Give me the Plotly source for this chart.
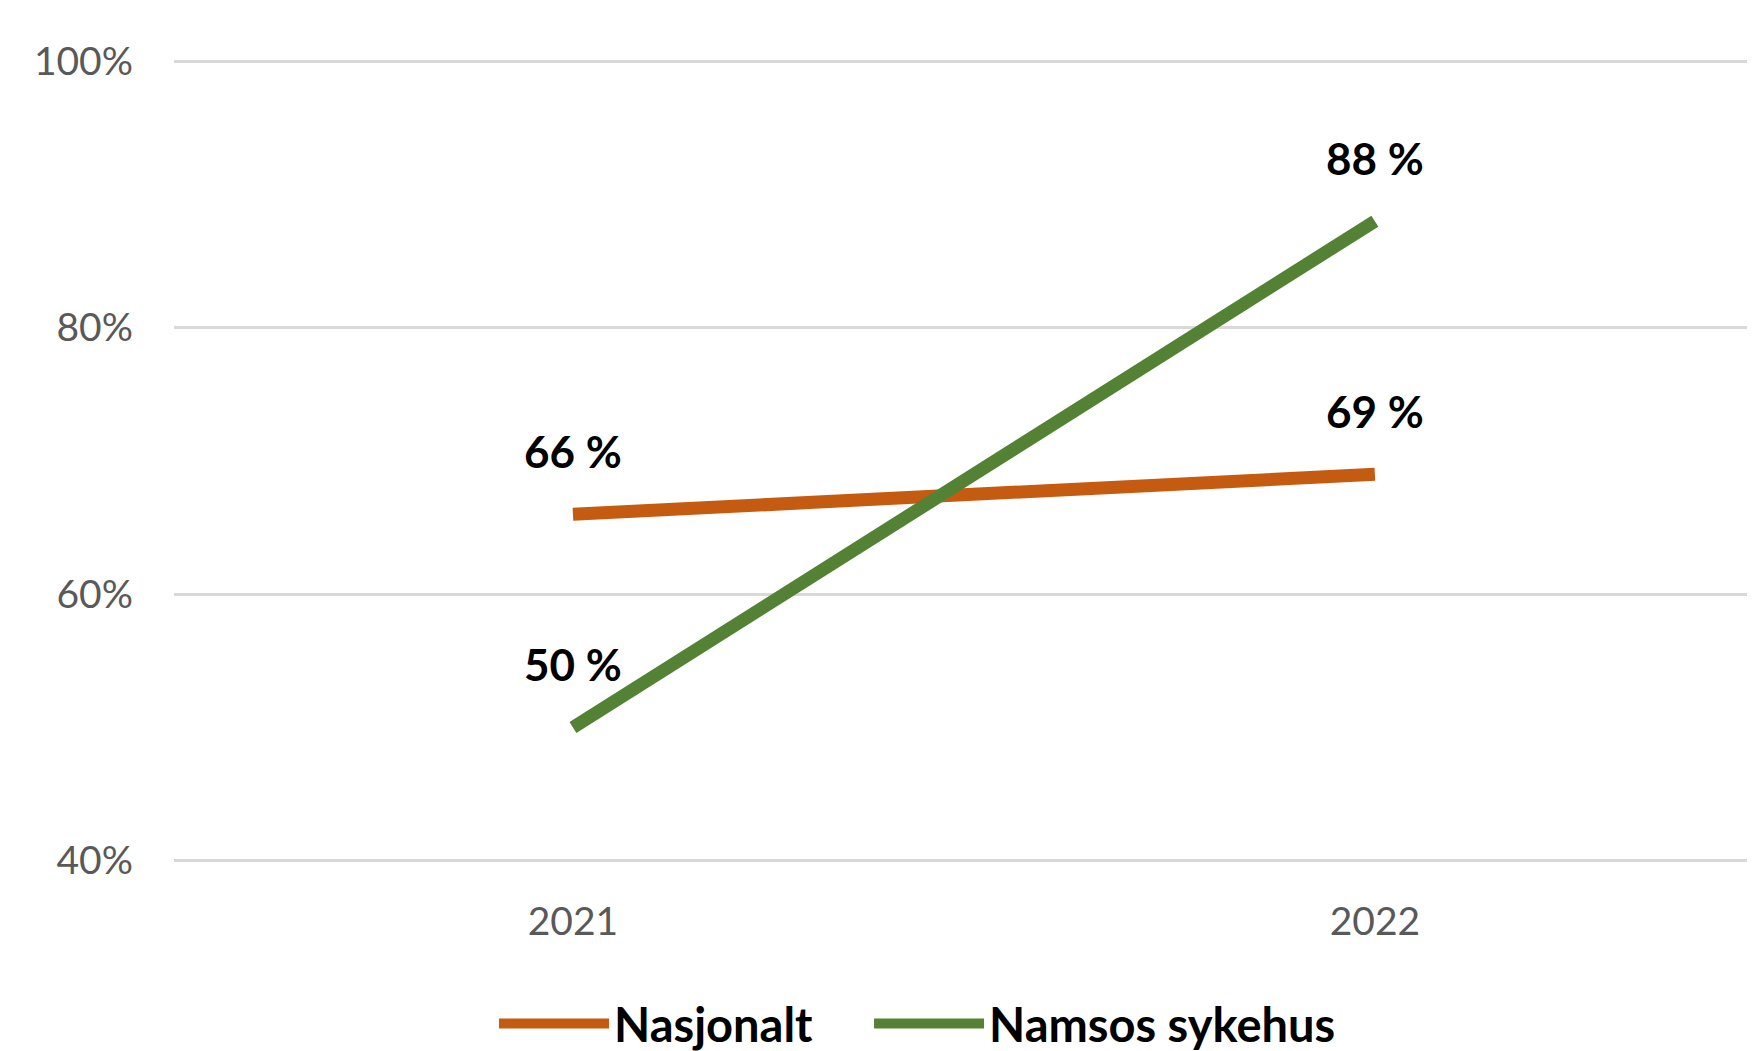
import plotly.graph_objects as go

years = ["2021", "2022"]
series_names = ["Nasjonalt", "Namsos sykehus"]
nasjonalt = [0.66, 0.69]
namsos = [0.50, 0.88]
label_nasjonalt = ["66 %", "69 %"]
label_namsos = ["50 %", "88 %"]
colors = ["#C55A11", "#548235"]
y_ticks = [0.4, 0.6, 0.8, 1.0]

legend_ids = ["legend", "legend2"]
legend_x = [0.2014, 0.4374]

fig = go.Figure()
for name, vals, col, lg in zip(series_names, [nasjonalt, namsos], colors, legend_ids):
    fig.add_trace(go.Scatter(x=years, y=vals, name=name, mode="lines", legend=lg,
                             line=dict(color=col, width=13)))

for vals, labels in [(nasjonalt, label_nasjonalt), (namsos, label_namsos)]:
    for i, (v, t) in enumerate(zip(vals, labels)):
        fig.add_annotation(x=i, y=v, xref="x", yref="y", text=t, showarrow=False, yshift=63,
                           font=dict(family="Lato", size=44, color="#000000", weight="bold"))

legend_style = dict(orientation="h", xanchor="left", yref="container", y=0.0333, yanchor="middle",
                    font=dict(family="Lato", size=47, color="#000000", weight="bold"),
                    itemwidth=110, tracegroupgap=0, bgcolor="rgba(0,0,0,0)")

fig.update_layout(
    width=1755, height=1051,
    paper_bgcolor="white", plot_bgcolor="white",
    margin=dict(l=166, r=0, t=40, b=185, autoexpand=False),
    font=dict(family="Lato", color="#595959"),
    showlegend=True,
    legend=dict(x=legend_x[0], **legend_style),
    legend2=dict(x=legend_x[1], **legend_style),
    xaxis=dict(type="category", range=[-0.4975, 1.484], showgrid=False, showline=False,
               zeroline=False, ticks="", ticklabelstandoff=21,
               tickfont=dict(family="Lato", size=39, color="#595959")),
    yaxis=dict(range=[0.39, 1.01], tickvals=y_ticks, tickformat=".0%",
               showgrid=True, gridcolor="#d9d9d9", gridwidth=2.5, zeroline=False,
               showline=False, ticks="", ticklabelstandoff=40,
               tickfont=dict(family="Lato", size=39, color="#595959")),
)

fig.write_html("out.html")
